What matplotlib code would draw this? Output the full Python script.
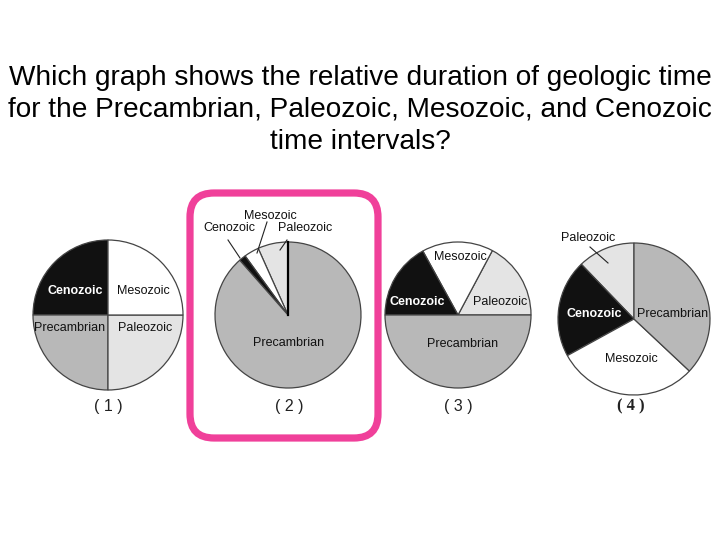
import numpy as np
import matplotlib.pyplot as plt
from matplotlib.patches import FancyBboxPatch

plt.rcParams['font.family'] = ['Liberation Sans', 'DejaVu Sans']

# Data: share of geologic time in each of the four answer choices (percent)
eras = ["Precambrian", "Paleozoic", "Mesozoic", "Cenozoic"]
colors = {"Precambrian": "#b8b8b8", "Paleozoic": "#e4e4e4",
          "Mesozoic": "#ffffff", "Cenozoic": "#111111"}

# order of wedges (counterclockwise from the start angle) and their sizes
pie1_order = ["Cenozoic", "Precambrian", "Paleozoic", "Mesozoic"]
pie1_sizes = [25, 25, 25, 25]
pie2_order = ["Paleozoic", "Mesozoic", "Cenozoic", "Precambrian"]
pie2_sizes = [6.7, 3.3, 1.5, 88.5]
pie3_order = ["Paleozoic", "Mesozoic", "Cenozoic", "Precambrian"]
pie3_sizes = [17.2, 15.8, 17.0, 50.0]
pie4_order = ["Paleozoic", "Cenozoic", "Mesozoic", "Precambrian"]
pie4_sizes = [12.2, 20.8, 30.0, 37.0]
choice_labels = ["( 1 )", "( 2 )", "( 3 )", "( 4 )"]

H = 540
fig = plt.figure(figsize=(7.2, 5.4), dpi=100)
ax = fig.add_axes([0, 0, 1, 1])

def draw_pie(order, sizes, cx, cy, r, start=90):
    wedges, _ = ax.pie(sizes, colors=[colors[e] for e in order], startangle=start,
                       counterclock=True, center=(cx, H - cy), radius=r, frame=True,
                       wedgeprops=dict(edgecolor="#444444", linewidth=0.9))
    return wedges

draw_pie(pie1_order, pie1_sizes, 108, 315, 75)
draw_pie(pie2_order, pie2_sizes, 288, 315, 73)
draw_pie(pie3_order, pie3_sizes, 458, 315, 73, start=0)
draw_pie(pie4_order, pie4_sizes, 634, 319, 76)

# thick divider at top of pie 2
ax.plot([288, 288], [H - 315, H - 315 + 73], color="black", lw=1.6)

def lab(x, y, s, color="#111111", weight="normal", size=9, **kw):
    ax.text(x, H - y, s, ha="center", va="center", fontsize=size, color=color,
            fontweight=weight, **kw)

def leader(x0, y0, x1, y1):
    ax.plot([x0, x1], [H - y0, H - y1], color="#222222", lw=0.8)

# pie 1
lab(75, 291, "Cenozoic", color="white", weight="bold")
lab(143, 291, "Mesozoic")
lab(70, 328, "Precambrian")
lab(145, 328, "Paleozoic")
# pie 2
lab(270, 216, "Mesozoic")
lab(229, 228, "Cenozoic")
lab(305, 228, "Paleozoic")
lab(289, 343, "Precambrian")
leader(228, 240, 240, 258)
leader(267, 222, 257, 253)
leader(287, 240, 280, 250)
# pie 3
lab(460, 257, "Mesozoic")
lab(417, 302, "Cenozoic", color="white", weight="bold")
lab(500, 302, "Paleozoic")
lab(463, 344, "Precambrian")
# pie 4
lab(588, 238, "Paleozoic")
leader(590, 247, 608, 263)
lab(594, 314, "Cenozoic", color="white", weight="bold")
lab(673, 314, "Precambrian")
lab(631, 359, "Mesozoic")

for x, s in zip([108, 289, 458, 631], choice_labels):
    if s == "( 4 )":
        ax.text(x, H - 406, s, ha="center", va="center", fontsize=12,
                family="Liberation Serif", fontweight="bold", color="#222222")
    else:
        ax.text(x, H - 406, s, ha="center", va="center", fontsize=11.5, color="#222222")

# highlight around the correct answer
box = FancyBboxPatch((190, H - 438), 378 - 190, 438 - 193,
                     boxstyle="round,pad=0,rounding_size=24",
                     fill=False, edgecolor="#f0409a", linewidth=5.2)
ax.add_patch(box)

ax.text(360, H - 110, "Which graph shows the relative duration of geologic time\n"
        "for the Precambrian, Paleozoic, Mesozoic, and Cenozoic\ntime intervals?",
        ha="center", va="center", fontsize=20.2, linespacing=1.28)

ax.set_xlim(0, 720)
ax.set_ylim(0, H)
ax.set_aspect("equal")
ax.axis("off")
fig.savefig("out.png", dpi=100, facecolor="white")
